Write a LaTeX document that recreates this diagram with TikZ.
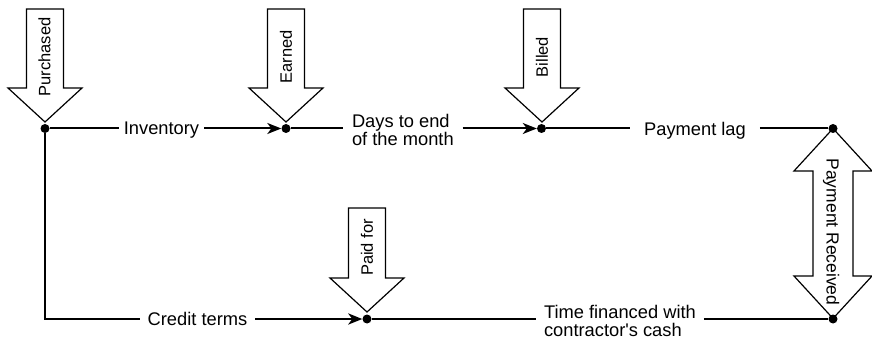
\documentclass[tikz,border=0pt]{standalone}
\usepackage{fontspec}
\setmainfont{Liberation Sans}
\usetikzlibrary{arrows.meta}
\begin{document}
\begin{tikzpicture}[x=1pt,y=-1pt,
  flow/.style={line width=2pt},
  heavy/.style={line width=2.8pt},
  tipped/.style={-{Stealth[length=14pt,width=11pt,inset=4pt]}},
  dot/.style={circle,fill=black,inner sep=0pt,minimum size=9pt},
  lbl/.style={inner sep=0pt,outer xsep=6pt,font=\fontsize{18.3}{18}\selectfont,text depth=0pt},
  lbltwo/.style={inner sep=0pt,outer xsep=9pt,font=\fontsize{18.3}{18}\selectfont,align=left,anchor=north west},
  blk/.style={draw,line width=1.2pt,fill=white,line join=miter},
  tag/.style={inner sep=0pt,font=\fontsize{16.5}{16.5}\selectfont,text depth=0pt,rotate=90},
]
\useasboundingbox (0,0) rectangle (872,339);

% block arrows pointing down onto the event points
\foreach \x/\tip/\len in {45/122/113, 286/122/113, 542/122/113, 367/312/104}{
  \draw[blk,shift={(\x,\tip)}] (0,0) -- (-37,-34) -- (-18.5,-34) -- (-18.5,-\len)
    -- (18.5,-\len) -- (18.5,-34) -- (37,-34) -- cycle;
}
% double-headed arrow between billing and receipt of payment
\draw[blk] (833,128.5) -- (872,171) -- (853,171) -- (853,276) -- (872,276)
  -- (833,318.5) -- (794,276) -- (813,276) -- (813,171) -- (794,171) -- cycle;

% event points
\node[dot] (p1) at (45,128.5) {};
\node[dot] (p2) at (286,128.5) {};
\node[dot] (p3) at (541.5,128.5) {};
\node[dot] (p4) at (833,128.5) {};
\node[dot] (p5) at (367,319) {};
\node[dot] (p6) at (833,319) {};
\coordinate (corner) at (45,319);

% block arrow captions
\node[tag] (tpur) at (44.5,57) {Purchased};
\node[tag] (tearn) at (286,57) {Earned};
\node[tag] (tbill) at (542,57) {Billed};
\node[tag] (tpaid) at (367,247.5) {Paid for};
\node[tag,rotate=180,font=\fontsize{17.5}{17.5}\selectfont] (trec) at (833,232) {Payment Received};

% interval labels
\node[lbl,outer xsep=5pt] (inv) at (161.5,128.5) {Inventory};
\node[lbltwo] (days) at (343,114) {Days to end\\of the month};
\node[lbl,outer xsep=14pt] (lag) at (695,128.5) {Payment lag};
\node[lbl,outer xsep=8pt] (credit) at (197.5,319) {Credit terms};
\node[lbltwo,outer xsep=8pt] (time) at (536,305) {Time financed with\\contractor\textquotesingle s cash};

% intervals
\draw[flow] (p1) -- (inv);
\draw[flow,tipped] (inv) -- (p2);
\draw[flow] (p2) -- (p2 -| days.west);
\draw[flow,tipped] (p2 -| days.east) -- (p3);
\draw[flow] (p3) -- (lag);
\draw[flow] (lag) -- (p4);
\draw[flow,line join=miter] (p1) -- (corner) -- (credit);
\draw[heavy,tipped] (credit) -- (p5);
\draw[heavy] (p5) -- (p5 -| time.west);
\draw[heavy] (p5 -| time.east) -- (p6);
\end{tikzpicture}
\end{document}
